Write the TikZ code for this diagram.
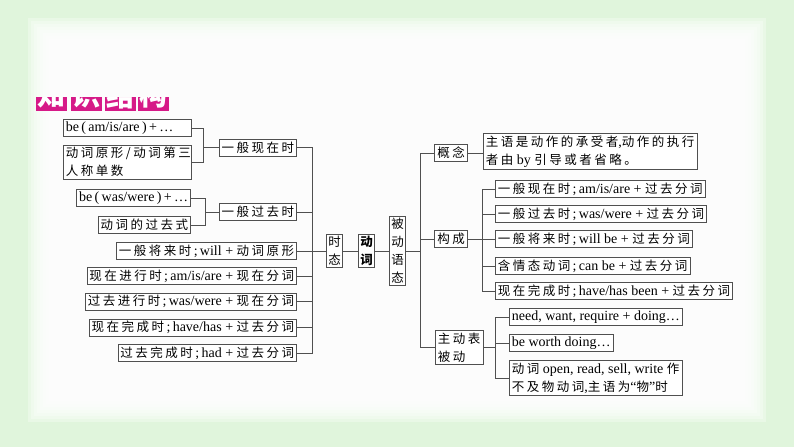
\documentclass[tikz,border=0pt]{standalone}
\usepackage{fontspec}
\setmainfont{Liberation Serif}
\newfontfamily\cjk[LetterSpace=20]{Noto Sans CJK SC}
\newfontfamily\cjkt{Noto Sans CJK SC}
\usetikzlibrary{positioning}
\definecolor{panelgreen}{RGB}{224,245,220}
\definecolor{linegray}{RGB}{80,80,80}
\definecolor{titlemag}{RGB}{214,26,136}
\newcommand{\zh}[1]{{\fontsize{12.5}{18}\cjk #1}}
\newcommand{\semi}{\,;\,}

\begin{document}
\begin{tikzpicture}[x=1pt, y=-1pt,
    box/.style={draw=linegray, fill=white, line width=0.7pt, inner xsep=2.5pt,
                inner ysep=2pt, minimum height=17pt,
                font=\fontsize{14}{18}\selectfont},
    vbox/.style={box, align=center, inner xsep=2pt,
                 font=\fontsize{12.5}{18}\selectfont\cjkt},
    conn/.style={draw=linegray, line width=0.7pt},
    tag/.style={fill=titlemag, text=white, inner sep=1pt, minimum width=31pt,
                minimum height=32pt, font=\fontsize{28}{28}\selectfont\cjkt\bfseries}
  ]
  \useasboundingbox (0,0) rectangle (794,447);
  % background panel
  \fill[panelgreen] (0,0) rectangle (794,447);
  \foreach \d in {0,...,9}
    \fill[white, opacity=0.3] (28+3*\d,18+3*\d) rectangle (766-3*\d,422-3*\d);

  % title, cut off at the top
  \begin{scope}
    \clip (30,97.5) rectangle (175,111.5);
    \node[tag, anchor=south] (t1) at (51.5,111.5) {知};
    \node[tag, anchor=south] (t2) at (86.5,111.5) {识};
    \node[tag, anchor=south] (t3) at (120.5,111.5) {结};
    \node[tag, anchor=south] (t4) at (153,111.5) {构};
  \end{scope}

  % tenses
  \node[box, anchor=west, text width=123pt, align=left] (am) at (63,128)
    {be\,(\,am/is/are\,)\,+\,\ldots};
  \node[box, anchor=north west, text width=123pt, align=left] (yuan) at (63,145)
    {\zh{动词原形/动词第三}\\\zh{人称单数}};
  \node[box, anchor=east] (now) at (297,147.5) {\zh{一般现在时}};
  \node[box, anchor=east] (was) at (191,198) {be\,(\,was/were\,)\,+\,\ldots};
  \node[box, anchor=east] (pastform) at (191,225) {\zh{动词的过去式}};
  \node[box, anchor=east] (past) at (297,212) {\zh{一般过去时}};
  \node[box, anchor=east] (fut) at (297,251) {\zh{一般将来时}\semi will + \zh{动词原形}};
  \node[box, anchor=east] (prog) at (297,276) {\zh{现在进行时}\semi am/is/are + \zh{现在分词}};
  \node[box, anchor=east] (pprog) at (297,301.5) {\zh{过去进行时}\semi was/were + \zh{现在分词}};
  \node[box, anchor=east] (perf) at (297,327.5) {\zh{现在完成时}\semi have/has + \zh{过去分词}};
  \node[box, anchor=east] (pperf) at (297,353) {\zh{过去完成时}\semi had + \zh{过去分词}};

  % middle
  \node[vbox] (tense) at (334.5,251) {时\\态};
  \node[vbox, font=\fontsize{12.5}{18}\selectfont\cjkt\bfseries] (verb) at (366.5,251) {动\\词};
  \node[vbox] (pas) at (397.5,251) {被\\动\\语\\态};

  % passive voice
  \node[box] (concept) at (451,153) {\zh{概念}};
  \node[box] (form) at (451,239) {\zh{构成}};
  \node[box, anchor=west, align=left] (act) at (435,347.5) {\zh{主动表}\\\zh{被动}};
  \node[box, anchor=west, align=left] (defn) at (483,151.5)
    {\zh{主语是动作的承受者},\zh{动作的执行}\\\zh{者由} by \zh{引导或者省略。}};
  \node[box, anchor=west] (f1) at (495,189) {\zh{一般现在时}\semi am/is/are + \zh{过去分词}};
  \node[box, anchor=west] (f2) at (495,214) {\zh{一般过去时}\semi was/were + \zh{过去分词}};
  \node[box, anchor=west] (f3) at (495,239) {\zh{一般将来时}\semi will be + \zh{过去分词}};
  \node[box, anchor=west] (f4) at (495,266) {\zh{含情态动词}\semi can be + \zh{过去分词}};
  \node[box, anchor=west] (f5) at (495,291) {\zh{现在完成时}\semi have/has been + \zh{过去分词}};
  \node[box, anchor=west] (n1) at (509,317) {need, want, require + doing\ldots};
  \node[box, anchor=west] (n2) at (509,343) {be worth doing\ldots};
  \node[box, anchor=west, align=left] (n3) at (509,378)
    {\zh{动词} open, read, sell, write \zh{作}\\\zh{不及物动词},\zh{主语为}“\zh{物}”\zh{时}};

  % connectors
  \coordinate (k1) at (203,147.5);
  \draw[conn] (am.east) -| (k1);
  \draw[conn] (yuan.east) -| (k1);
  \draw[conn] (k1) -- (now.west);
  \coordinate (k2) at (205,212);
  \draw[conn] (was.east) -| (k2);
  \draw[conn] (pastform.east) -| (k2);
  \draw[conn] (k2) -- (past.west);

  \coordinate (trunk) at (312,251);
  \foreach \n in {now,past,fut,prog,pprog,perf,pperf}
    \draw[conn] (\n.east) -| (trunk);
  \draw[conn] (trunk) -- (tense.west);
  \draw[conn] (tense) -- (verb);
  \draw[conn] (verb) -- (pas);

  \coordinate (br) at (420,251);
  \draw[conn] (pas.east) -- (br);
  \foreach \n in {concept,form,act}
    \draw[conn] (br) |- (\n.west);
  \draw[conn] (concept.east) -- (concept.east -| defn.west);

  \coordinate (bc) at (482,239);
  \draw[conn] (form.east) -- (bc);
  \foreach \n in {f1,f2,f3,f4,f5}
    \draw[conn] (bc) |- (\n.west);
  \coordinate (ba) at (495,347.5);
  \draw[conn] (act.east) -- (ba);
  \foreach \n in {n1,n2,n3}
    \draw[conn] (ba) |- (\n.west);
\end{tikzpicture}
\end{document}
